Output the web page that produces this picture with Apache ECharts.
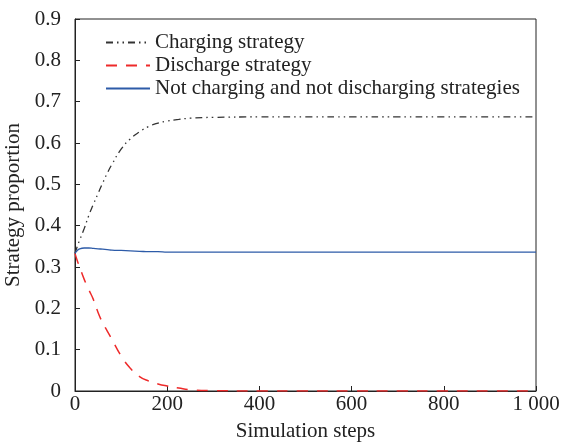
<!DOCTYPE html>
<html><head><meta charset="utf-8">
<script src="https://cdn.jsdelivr.net/npm/echarts@6/dist/echarts.min.js"></script>
<style>html,body{margin:0;padding:0;background:#fff}#c{width:566px;height:443px}</style>
</head><body><div id="c"></div>
<script>
const steps =     [0,    5,     10,    20,    30,    40,    50,    60,    70,    80,    100,   120,   140,   160,   180,   200,   225,   250,   300,   400,   500,   600,   700,   800,   900,   1000];
const charging =  [0.333,0.350, 0.365, 0.393, 0.425, 0.452, 0.478, 0.503, 0.527, 0.548, 0.585, 0.610, 0.627, 0.640, 0.648, 0.653, 0.657, 0.660, 0.662, 0.663, 0.663, 0.663, 0.663, 0.663, 0.663, 0.663];
const discharge = [0.333,0.315, 0.300, 0.270, 0.245, 0.221, 0.190, 0.165, 0.145, 0.125, 0.085, 0.055, 0.035, 0.024, 0.017, 0.012, 0.007, 0.003, 0.001, 0.000, 0.000, 0.000, 0.000, 0.000, 0.000, 0.000];
const neither =   [0.333,0.340, 0.344, 0.346, 0.346, 0.345, 0.344, 0.343, 0.342, 0.341, 0.340, 0.339, 0.338, 0.337, 0.337, 0.336, 0.336, 0.336, 0.336, 0.336, 0.336, 0.336, 0.336, 0.336, 0.336, 0.336];
const names = ['Charging strategy','Discharge strategy','Not charging and not discharging strategies'];
const yTicks = [0,0.1,0.2,0.3,0.4,0.5,0.6,0.7,0.8,0.9];

const pair = a => steps.map((s,i)=>[s,a[i]]);
const font = 'Liberation Serif';
const fs = 21;
const chart = echarts.init(document.getElementById('c'));
chart.setOption({
  animation:false,
  textStyle:{fontFamily:font},
  grid:{left:75,right:30,top:19,bottom:52,show:true,borderColor:'#222',borderWidth:1,backgroundColor:'transparent',
    containLabel:false,outerBoundsMode:'none'},
  legend:{
    orient:'vertical',left:100,top:27,itemGap:2,itemWidth:44,itemHeight:12,
    itemStyle:{opacity:0},
    textStyle:{fontFamily:font,fontSize:fs,color:'#222'},
    data:names
  },
  xAxis:{type:'value',min:0,max:1000,interval:200,
    name:'Simulation steps',nameLocation:'middle',nameGap:30,
    nameTextStyle:{fontFamily:font,fontSize:fs,color:'#222'},
    axisLine:{lineStyle:{color:'#222'}},
    axisTick:{inside:true,length:5,lineStyle:{color:'#222'}},
    axisLabel:{fontFamily:font,fontSize:fs,color:'#222',margin:3,
      formatter:v=> v>=1000 ? '1 000' : String(v)},
    splitLine:{show:false}},
  yAxis:{type:'value',min:0,max:0.9,interval:0.1,
    name:'Strategy proportion',nameLocation:'middle',nameGap:47,
    nameTextStyle:{fontFamily:font,fontSize:fs,color:'#222'},
    axisLine:{lineStyle:{color:'#222'}},
    axisTick:{inside:true,length:5,lineStyle:{color:'#222'}},
    axisLabel:{fontFamily:font,fontSize:fs,color:'#222',margin:14,
      formatter:v=>{const t=yTicks.find(x=>Math.abs(x-v)<1e-6);return t===0?'0':t.toFixed(1);}},
    splitLine:{show:false}},
  series:[
    {name:names[0],type:'line',data:pair(charging),smooth:true,showSymbol:false,symbol:'none',
      lineStyle:{color:'#333',width:1.3,type:[7,4,1.5,4,1.5,4]},itemStyle:{color:'#333'}},
    {name:names[1],type:'line',data:pair(discharge),smooth:true,showSymbol:false,symbol:'none',
      lineStyle:{color:'#ee2a2a',width:1.5,type:[11,9]},itemStyle:{color:'#ee2a2a'}},
    {name:names[2],type:'line',data:pair(neither),smooth:true,showSymbol:false,symbol:'none',
      lineStyle:{color:'#2d5ba8',width:1.3},itemStyle:{color:'#2d5ba8'}}
  ]
});
</script></body></html>
